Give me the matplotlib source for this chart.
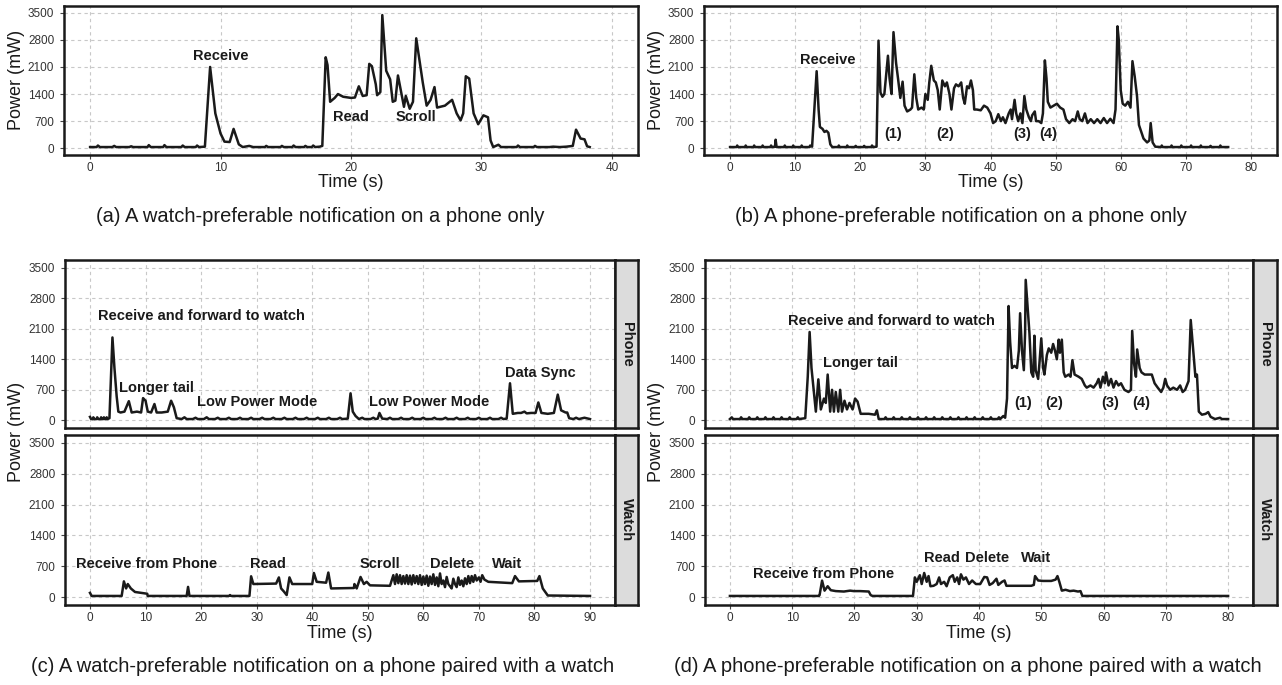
import matplotlib
matplotlib.use("Agg")
import matplotlib.pyplot as plt

plt.rcParams['font.family'] = ['Liberation Sans', 'DejaVu Sans']

# ---- traces: (time s, power mW) ----
a_trace = [(0.0, 30), (0.5, 30), (0.6, 70), (0.75, 30), (1.7, 30), (1.85, 60), (2.0, 30),
           (3.0, 30), (3.15, 50), (3.3, 30), (4.4, 30), (4.5, 80), (4.65, 30), (5.6, 30),
           (5.7, 80), (5.85, 30), (7.0, 30), (7.1, 70), (7.25, 30), (8.1, 30), (8.2, 70),
           (8.35, 30), (8.8, 40), (9.2, 2100), (9.6, 900), (10.0, 380), (10.3, 170),
           (10.7, 160), (11.0, 500), (11.4, 100), (11.7, 30), (12.2, 60), (12.5, 30),
           (13.4, 30), (13.5, 60), (13.65, 30), (14.6, 30), (14.7, 60), (14.85, 30),
           (15.5, 30), (15.6, 70), (15.75, 30), (16.4, 30), (16.5, 60), (16.65, 30),
           (17.0, 30), (17.1, 70), (17.25, 30), (17.6, 40), (17.8, 60), (18.06, 2350),
           (18.2, 2150), (18.4, 1200), (18.75, 1300), (19.0, 1400), (19.4, 1330),
           (20.0, 1300), (20.3, 1310), (20.6, 1600), (20.9, 1350), (21.2, 1370),
           (21.4, 2180), (21.6, 2120), (21.9, 1650), (22.0, 1370), (22.25, 1450),
           (22.4, 3440), (22.7, 2000), (23.0, 1780), (23.2, 1200), (23.4, 1230),
           (23.6, 1880), (24.06, 1070), (24.2, 1350), (24.5, 1020), (24.75, 1200),
           (25.0, 2840), (25.5, 1700), (25.8, 1100), (26.1, 1250), (26.4, 1580),
           (26.6, 1050), (27.2, 1100), (27.75, 1250), (28.1, 900), (28.4, 720),
           (28.6, 900), (28.8, 1860), (29.06, 1800), (29.4, 900), (29.75, 620),
           (30.15, 850), (30.5, 800), (30.7, 200), (30.9, 30), (31.3, 90), (31.5, 30),
           (32.7, 30), (32.8, 70), (32.95, 30), (34.0, 30), (34.1, 60), (34.25, 30),
           (35.2, 30), (35.5, 40), (36.0, 30), (36.5, 40), (37.0, 60), (37.25, 480),
           (37.6, 250), (37.9, 230), (38.1, 50), (38.3, 30)]

b_trace = [(0.0, 30), (1.0, 30), (1.1, 70), (1.25, 30), (2.3, 30), (2.4, 70), (2.55, 30),
           (3.6, 30), (3.7, 70), (3.85, 30), (4.9, 30), (5.0, 70), (5.15, 30), (6.2, 30),
           (6.3, 70), (6.45, 30), (6.9, 40), (7.0, 220), (7.15, 30), (8.3, 30), (8.4, 70),
           (8.55, 30), (9.6, 30), (9.7, 70), (9.85, 30), (10.9, 30), (11.0, 70),
           (11.15, 30), (12.2, 30), (12.3, 70), (12.6, 40), (13.3, 1990), (13.6, 1000),
           (13.8, 550), (14.2, 500), (14.5, 420), (14.8, 450), (15.1, 400), (15.4, 100),
           (15.7, 30), (16.6, 30), (16.7, 70), (16.85, 30), (17.9, 30), (18.0, 70),
           (18.15, 30), (19.2, 30), (19.3, 60), (19.45, 30), (20.5, 30), (20.6, 60),
           (20.75, 30), (21.7, 30), (21.8, 70), (22.0, 30), (22.5, 40), (22.8, 2780),
           (23.1, 1440), (23.4, 1330), (23.7, 1400), (24.25, 2390), (24.5, 1800),
           (24.8, 1400), (25.1, 3000), (25.5, 2200), (25.8, 1800), (26.15, 1300),
           (26.5, 1720), (26.8, 1100), (27.2, 950), (27.7, 1000), (27.95, 1050),
           (28.3, 1910), (28.6, 1300), (28.9, 1000), (29.4, 1050), (29.75, 1000),
           (30.0, 1400), (30.36, 1250), (30.6, 1700), (30.9, 2130), (31.3, 1750),
           (31.6, 1700), (31.9, 1500), (32.2, 1000), (32.6, 1750), (33.0, 1600),
           (33.3, 1700), (33.7, 1400), (34.0, 1000), (34.4, 1550), (34.7, 1650),
           (35.1, 1600), (35.5, 1700), (35.8, 1300), (36.05, 1150), (36.4, 1600),
           (36.7, 1550), (37.0, 1750), (37.3, 1500), (37.5, 1000), (37.9, 1000),
           (38.5, 980), (39.0, 1100), (39.5, 1050), (40.0, 900), (40.4, 650), (40.8, 700),
           (41.2, 880), (41.6, 700), (41.9, 800), (42.3, 650), (42.8, 900), (43.1, 1000),
           (43.3, 750), (43.7, 1250), (43.95, 900), (44.25, 700), (44.6, 900), (44.9, 650),
           (45.2, 1350), (45.5, 1000), (45.9, 800), (46.2, 700), (46.4, 850), (46.8, 950),
           (47.0, 700), (47.4, 700), (47.8, 650), (48.05, 900), (48.35, 2270),
           (48.6, 1800), (48.8, 1200), (49.2, 1050), (49.7, 1100), (50.2, 1150),
           (50.7, 1050), (51.2, 1000), (51.6, 750), (52.1, 650), (52.6, 750), (53.0, 700),
           (53.4, 950), (53.7, 750), (54.1, 700), (54.5, 900), (54.9, 650), (55.4, 750),
           (55.9, 650), (56.4, 750), (56.9, 650), (57.4, 780), (57.9, 650), (58.4, 760),
           (58.9, 650), (59.2, 1000), (59.5, 3150), (59.7, 2800), (60.0, 1500),
           (60.3, 1150), (60.7, 1100), (61.1, 1200), (61.5, 1050), (61.8, 2250),
           (62.15, 1850), (62.5, 1350), (62.8, 600), (63.2, 400), (63.5, 250),
           (64.05, 150), (64.4, 200), (64.6, 650), (64.9, 150), (65.3, 40), (66.2, 30),
           (66.3, 70), (66.45, 30), (67.7, 30), (67.8, 70), (67.95, 30), (69.2, 30),
           (69.3, 70), (69.45, 30), (70.7, 30), (70.8, 70), (70.95, 30), (72.2, 30),
           (72.3, 70), (72.45, 30), (73.7, 30), (73.8, 60), (73.95, 30), (75.2, 30),
           (75.3, 70), (75.45, 30), (76.5, 30)]

c_phone_trace = [(0.0, 80), (0.2, 30), (0.5, 30), (0.6, 70), (0.75, 30), (1.2, 30), (1.3, 70),
                 (1.45, 30), (1.9, 30), (2.0, 70), (2.15, 30), (2.4, 30), (2.5, 70),
                 (2.65, 30), (2.9, 30), (3.0, 70), (3.15, 30), (3.5, 50), (4.04, 1900),
                 (4.4, 1200), (4.8, 550), (5.1, 200), (5.5, 180), (6.2, 200), (6.99, 440),
                 (7.5, 180), (8.45, 200), (9.2, 180), (9.55, 510), (10.0, 450), (10.4, 200),
                 (11.0, 180), (11.6, 375), (12.0, 180), (12.9, 180), (14.0, 200),
                 (14.6, 450), (15.1, 300), (15.6, 50), (16.5, 30), (17.0, 70), (17.4, 30),
                 (18.5, 30), (19.0, 60), (19.4, 30), (20.5, 30), (21.0, 70), (21.4, 30),
                 (22.5, 30), (23.0, 60), (23.4, 30), (24.5, 30), (25.0, 60), (25.4, 30),
                 (26.5, 30), (27.0, 60), (27.4, 30), (28.5, 30), (29.0, 60), (29.4, 30),
                 (30.5, 30), (31.0, 60), (31.4, 30), (32.5, 30), (33.0, 60), (33.4, 30),
                 (34.5, 30), (35.0, 60), (35.4, 30), (36.5, 30), (37.0, 60), (37.4, 30),
                 (38.5, 30), (39.0, 60), (39.4, 30), (40.5, 30), (41.0, 60), (41.4, 30),
                 (42.5, 30), (43.0, 60), (43.4, 30), (44.5, 30), (45.0, 60), (45.4, 30),
                 (46.4, 40), (46.9, 620), (47.3, 200), (47.8, 100), (48.4, 30), (49.0, 60),
                 (49.4, 30), (50.5, 30), (51.0, 60), (51.4, 30), (51.8, 40), (52.1, 170),
                 (52.6, 40), (53.5, 30), (54.0, 60), (54.4, 30), (55.5, 30), (56.0, 60),
                 (56.4, 30), (57.5, 30), (58.0, 60), (58.4, 30), (59.5, 30), (60.0, 60),
                 (60.4, 30), (61.5, 30), (62.0, 60), (62.4, 30), (63.5, 30), (64.0, 60),
                 (64.4, 30), (65.5, 30), (66.0, 60), (66.4, 30), (67.5, 30), (68.0, 60),
                 (68.4, 30), (69.5, 30), (70.0, 60), (70.4, 30), (71.5, 30), (72.0, 60),
                 (72.4, 30), (73.5, 30), (74.0, 60), (74.4, 30), (75.0, 40), (75.6, 850),
                 (76.1, 150), (77.0, 170), (77.6, 170), (78.2, 200), (78.6, 160),
                 (79.4, 170), (80.2, 170), (80.7, 410), (81.25, 170), (82.4, 150),
                 (83.5, 170), (84.2, 590), (84.8, 230), (85.3, 200), (85.6, 180),
                 (85.9, 180), (86.25, 50), (87.0, 30), (87.5, 60), (88.0, 30), (89.0, 60),
                 (90.0, 30)]

c_watch_trace = [(0.0, 100), (0.3, 30), (5.7, 30), (6.1, 360), (6.5, 200), (6.8, 300),
                 (7.35, 200), (8.1, 120), (9.2, 100), (10.3, 80), (10.4, 30), (17.4, 30),
                 (17.65, 235), (17.9, 30), (25.0, 30), (25.2, 50), (25.4, 30), (28.7, 30),
                 (29.0, 475), (29.4, 300), (33.5, 310), (34.0, 450), (34.4, 200),
                 (34.9, 130), (35.4, 50), (35.9, 450), (36.4, 300), (40.0, 300),
                 (40.3, 550), (40.8, 350), (42.5, 330), (42.9, 560), (43.4, 200),
                 (47.5, 210), (47.6, 300), (48.0, 200), (48.7, 460), (49.3, 300),
                 (49.8, 350), (50.4, 270), (54.0, 260), (54.6, 500), (54.9, 300),
                 (55.2, 520), (55.5, 320), (55.8, 500), (56.1, 300), (56.4, 480),
                 (56.7, 310), (57.0, 500), (57.3, 300), (57.6, 490), (57.9, 290),
                 (58.2, 500), (58.5, 320), (58.8, 480), (59.1, 300), (59.4, 500),
                 (59.7, 280), (60.0, 470), (60.3, 300), (60.6, 490), (60.9, 260),
                 (61.2, 470), (61.5, 300), (61.8, 520), (62.1, 280), (62.4, 450),
                 (62.7, 250), (63.0, 540), (63.3, 300), (63.6, 380), (63.9, 230),
                 (64.2, 460), (64.5, 300), (64.8, 250), (65.1, 200), (65.4, 420),
                 (65.7, 300), (66.0, 230), (66.3, 450), (66.6, 280), (66.9, 380),
                 (67.2, 250), (67.5, 430), (67.8, 300), (68.1, 480), (68.4, 320),
                 (68.7, 480), (69.0, 350), (69.3, 500), (69.6, 380), (70.0, 450),
                 (70.3, 350), (70.6, 500), (71.0, 400), (71.7, 350), (76.0, 320),
                 (76.5, 480), (77.2, 360), (80.5, 370), (80.9, 480), (81.5, 200),
                 (82.4, 40), (90.0, 30)]

d_phone_trace = [(0.0, 30), (0.3, 70), (0.5, 30), (1.6, 30), (1.8, 70), (2.0, 30), (2.9, 30),
                 (3.1, 70), (3.3, 30), (4.2, 30), (4.4, 70), (4.6, 30), (5.5, 30), (5.7, 70),
                 (5.9, 30), (6.8, 30), (7.0, 70), (7.2, 30), (8.1, 30), (8.3, 70), (8.5, 30),
                 (9.4, 30), (9.6, 70), (9.8, 30), (10.7, 30), (10.9, 70), (11.1, 30),
                 (12.1, 50), (12.5, 1000), (12.8, 2025), (13.1, 1200), (13.45, 700),
                 (13.8, 200), (14.2, 940), (14.6, 250), (15.1, 500), (15.4, 400),
                 (15.7, 1050), (16.1, 200), (16.4, 700), (16.7, 200), (17.0, 650),
                 (17.4, 200), (17.7, 700), (18.0, 200), (18.4, 450), (18.8, 250),
                 (19.2, 400), (19.7, 250), (20.1, 500), (20.5, 430), (21.0, 150),
                 (22.3, 150), (23.3, 130), (23.6, 230), (23.9, 30), (24.8, 30), (25.0, 70),
                 (25.2, 30), (26.1, 30), (26.3, 70), (26.5, 30), (27.4, 30), (27.6, 70),
                 (27.8, 30), (28.7, 30), (28.9, 70), (29.1, 30), (30.0, 30), (30.2, 70),
                 (30.4, 30), (31.3, 30), (31.5, 70), (31.7, 30), (32.6, 30), (32.8, 70),
                 (33.0, 30), (33.9, 30), (34.1, 70), (34.3, 30), (35.2, 30), (35.4, 70),
                 (35.6, 30), (36.5, 30), (36.7, 70), (36.9, 30), (37.8, 30), (38.0, 70),
                 (38.2, 30), (39.1, 30), (39.3, 70), (39.5, 30), (40.4, 30), (40.6, 70),
                 (40.8, 30), (41.7, 30), (41.9, 70), (42.1, 30), (43.0, 30), (43.2, 70),
                 (43.4, 30), (43.9, 100), (44.2, 60), (44.5, 500), (44.75, 2620),
                 (45.0, 1800), (45.3, 1200), (45.7, 1250), (46.1, 1200), (46.4, 1600),
                 (46.6, 2455), (46.9, 1600), (47.2, 1150), (47.4, 2000), (47.5, 3220),
                 (47.9, 2400), (48.1, 2000), (48.4, 1100), (48.7, 1000), (48.9, 1940),
                 (49.1, 1150), (49.5, 950), (49.7, 1300), (50.0, 1880), (50.3, 1200),
                 (50.5, 1050), (50.9, 1500), (51.2, 1650), (51.6, 1550), (51.9, 1750),
                 (52.2, 1600), (52.5, 1400), (52.8, 1850), (53.0, 1550), (53.3, 1850),
                 (53.6, 1100), (53.85, 1000), (54.4, 1050), (54.7, 1000), (55.0, 1380),
                 (55.35, 1050), (56.0, 1000), (56.5, 950), (57.0, 800), (57.3, 750),
                 (57.9, 800), (58.4, 750), (58.9, 850), (59.2, 950), (59.5, 750),
                 (59.9, 1000), (60.2, 850), (60.4, 1100), (60.8, 800), (61.2, 950),
                 (61.6, 750), (62.0, 900), (62.4, 800), (62.8, 850), (63.35, 700),
                 (64.0, 650), (64.4, 700), (64.6, 2050), (64.9, 1300), (65.2, 1000),
                 (65.4, 1625), (65.8, 1200), (66.1, 1100), (66.6, 1050), (67.2, 1050),
                 (67.75, 1050), (68.2, 850), (68.7, 750), (69.25, 650), (69.6, 750),
                 (69.9, 950), (70.2, 800), (70.7, 700), (71.2, 750), (71.8, 700),
                 (72.3, 800), (72.7, 650), (73.1, 700), (73.65, 900), (74.0, 2300),
                 (74.4, 1600), (74.75, 1000), (75.0, 1050), (75.3, 200), (75.8, 130),
                 (76.4, 150), (76.8, 190), (77.2, 80), (77.9, 30), (78.7, 60), (79.0, 30),
                 (80.0, 30)]

d_watch_trace = [(0.0, 30), (14.3, 30), (14.4, 50), (14.8, 377), (15.2, 150), (15.7, 250),
                 (16.2, 160), (17.0, 140), (18.3, 130), (19.3, 150), (19.9, 140),
                 (20.9, 140), (22.3, 130), (22.6, 50), (22.9, 30), (29.4, 30), (29.7, 450),
                 (30.0, 350), (30.5, 500), (30.8, 300), (31.2, 550), (31.6, 350),
                 (31.9, 480), (32.2, 250), (32.7, 260), (33.2, 300), (33.6, 450),
                 (33.9, 300), (34.4, 350), (34.8, 250), (35.3, 450), (35.8, 500),
                 (36.1, 350), (36.5, 450), (36.8, 300), (37.1, 520), (37.5, 400),
                 (37.9, 450), (38.4, 300), (38.9, 380), (39.5, 300), (40.2, 300),
                 (40.85, 460), (41.3, 450), (41.7, 280), (42.2, 320), (42.8, 420),
                 (43.1, 280), (43.7, 350), (44.1, 380), (44.4, 260), (45.8, 260),
                 (48.4, 260), (48.8, 280), (49.0, 480), (49.5, 380), (50.3, 370),
                 (51.6, 370), (52.3, 400), (52.6, 480), (52.9, 350), (53.3, 150),
                 (53.9, 170), (54.6, 140), (55.2, 150), (55.9, 130), (56.3, 140),
                 (56.6, 30), (80.0, 30)]

# annotations: (text, time, power)
a_notes = [("Receive", 10.0, 2390), ("Read", 20.0, 795), ("Scroll", 25.0, 795)]
b_notes = [("Receive", 15.0, 2280), ("(1)", 25.0, 367), ("(2)", 33.0, 367),
           ("(3)", 44.9, 367), ("(4)", 48.9, 367)]
c_phone_notes = [("Receive and forward to watch", 20.0, 2385), ("Longer tail", 12.0, 750),
                 ("Low Power Mode", 30.1, 412), ("Low Power Mode", 61.0, 412),
                 ("Data Sync", 81.1, 1090)]
c_watch_notes = [("Receive from Phone", 10.1, 760), ("Read", 32.0, 760), ("Scroll", 52.1, 760),
                 ("Delete", 65.1, 760), ("Wait", 75.0, 760)]
d_phone_notes = [("Receive and forward to watch", 26.0, 2270), ("Longer tail", 21.0, 1310),
                 ("(1)", 47.1, 400), ("(2)", 52.1, 400), ("(3)", 61.1, 400), ("(4)", 66.0, 400)]
d_watch_notes = [("Receive from Phone", 15.1, 530), ("Read", 34.0, 885), ("Delete", 41.3, 885),
                 ("Wait", 49.2, 885)]

captions = ["(a) A watch-preferable notification on a phone only",
            "(b) A phone-preferable notification on a phone only",
            "(c) A watch-preferable notification on a phone paired with a watch",
            "(d) A phone-preferable notification on a phone paired with a watch"]

W, H = 1282, 685
fig = plt.figure(figsize=(W / 100, H / 100), dpi=100)
LINE = '#1a1a1a'


def px_axes(left, top, right, bottom):
    return fig.add_axes([left / W, 1 - bottom / H, (right - left) / W, (bottom - top) / H])


def panel(rect, trace, notes, xmax, show_x=True):
    ax = px_axes(*rect)
    t, p = zip(*trace)
    ax.plot(t, p, color=LINE, lw=1.8, solid_joinstyle='round')
    ax.set_xlim(-xmax * 0.05, xmax * 1.05)
    ax.set_ylim(-175, 3675)
    ax.set_yticks(range(0, 3501, 700))
    ax.set_xticks(range(0, xmax + 1, 10))
    ax.grid(True, color='#c8c8c8', linestyle=(0, (3, 3)), linewidth=0.8)
    ax.set_axisbelow(True)
    for s in ax.spines.values():
        s.set_linewidth(1.8)
        s.set_color('#1a1a1a')
    ax.tick_params(length=3, width=0.8, color='#444444', labelsize=8.5,
                   labelcolor='#333333', pad=2)
    ax.tick_params(axis='y', pad=4)
    if not show_x:
        ax.tick_params(axis='x', labelbottom=False, length=0)
    for txt, x, y in notes:
        ax.text(x, y, txt, ha='center', va='center', fontsize=10.5, fontweight='bold',
                color='#1a1a1a')
    return ax


def strip(rect, label):
    sx = px_axes(*rect)
    sx.set_facecolor('#dcdcdc')
    sx.set_xticks([])
    sx.set_yticks([])
    for s in sx.spines.values():
        s.set_linewidth(1.8)
        s.set_color('#1a1a1a')
    sx.text(0.5, 0.5, label, rotation=-90, ha='center', va='center', fontsize=10.5,
            fontweight='bold', color='#1a1a1a', transform=sx.transAxes)


panel((64, 6, 638, 155), a_trace, a_notes, 40)
panel((704, 6, 1277, 155), b_trace, b_notes, 80)
panel((65, 260, 615, 428), c_phone_trace, c_phone_notes, 90, show_x=False)
panel((65, 435, 615, 605), c_watch_trace, c_watch_notes, 90)
strip((615, 260, 638, 428), "Phone")
strip((615, 435, 638, 605), "Watch")
panel((705, 260, 1253, 428), d_phone_trace, d_phone_notes, 80, show_x=False)
panel((705, 435, 1253, 605), d_watch_trace, d_watch_notes, 80)
strip((1253, 260, 1277, 428), "Phone")
strip((1253, 435, 1277, 605), "Watch")

# axis titles
for x, y in [(17, 80), (657, 80), (17, 432), (657, 432)]:
    fig.text(x / W, 1 - y / H, "Power (mW)", rotation=90, ha='center', va='center',
             fontsize=13, color='#1a1a1a')
for x, y in [(351, 183), (991, 183), (340, 633), (979, 633)]:
    fig.text(x / W, 1 - y / H, "Time (s)", ha='center', va='center', fontsize=13,
             color='#1a1a1a')

# sub-captions
for (x, y), cap in zip([(320, 217), (961, 217), (323, 667), (968, 667)], captions):
    fig.text(x / W, 1 - y / H, cap, ha='center', va='center', fontsize=14.5, color='#1a1a1a')

fig.savefig("out.png", dpi=100)
